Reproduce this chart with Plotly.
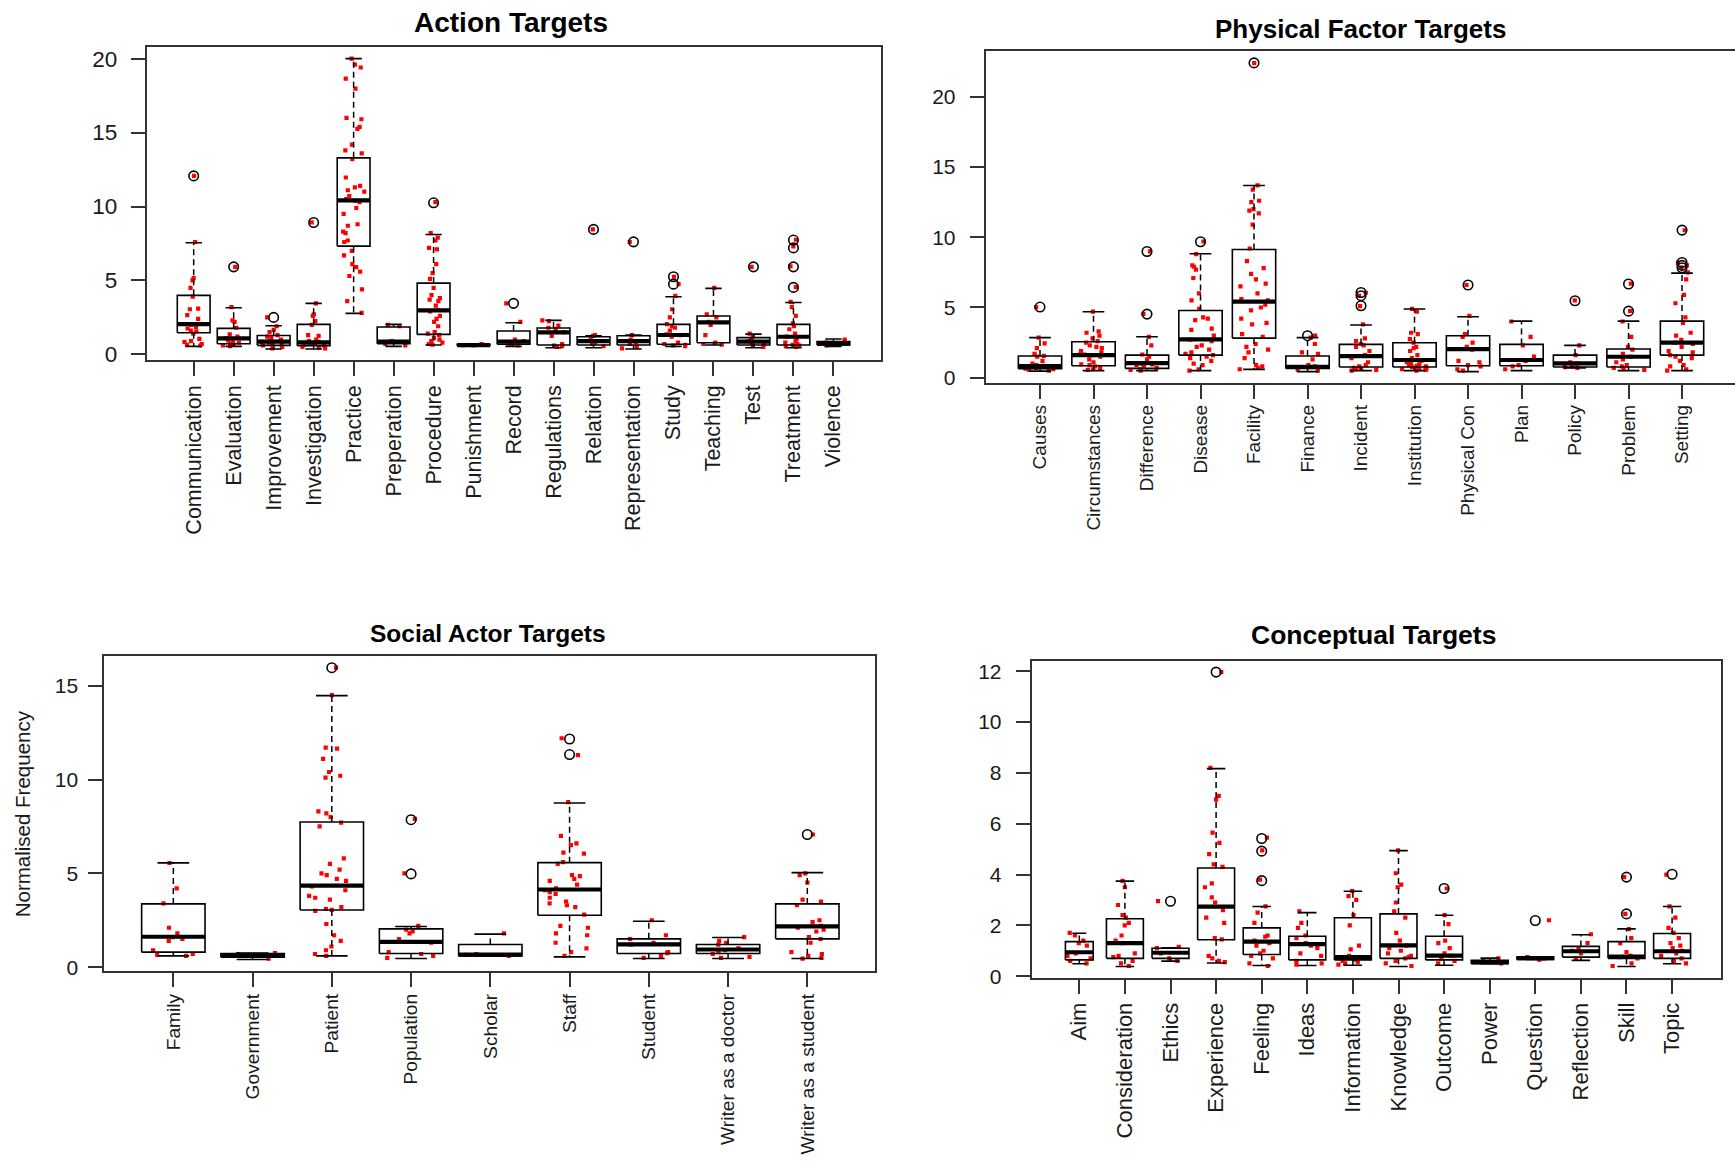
import plotly.graph_objects as go

# ===================== DATA =====================
# ---- Action Targets ----
action_cats = ["Communication", "Evaluation", "Improvement", "Investigation", "Practice",
               "Preperation", "Procedure", "Punishment", "Record", "Regulations", "Relation",
               "Representation", "Study", "Teaching", "Test", "Treatment", "Violence"]
action_lo = [0.54, 0.54, 0.36, 0.36, 2.77, 0.54, 0.63, 0.55, 0.54, 0.45, 0.45, 0.36, 0.54, 0.63, 0.45, 0.45, 0.54]
action_q1 = [1.46, 0.72, 0.61, 0.59, 7.32, 0.72, 1.35, 0.58, 0.68, 0.63, 0.63, 0.63, 0.68, 0.79, 0.63, 0.63, 0.63]
action_med = [2.05, 1.08, 0.86, 0.81, 10.41, 0.86, 2.97, 0.63, 0.86, 1.49, 0.90, 0.90, 1.31, 2.16, 0.86, 1.19, 0.72]
action_q3 = [3.99, 1.76, 1.28, 2.03, 13.29, 1.85, 4.82, 0.68, 1.58, 1.78, 1.19, 1.26, 2.03, 2.59, 1.13, 2.03, 0.86]
action_hi = [7.55, 3.15, 1.94, 3.45, 20.0, 2.03, 8.11, 0.70, 2.14, 2.30, 1.26, 1.31, 3.90, 4.46, 1.37, 3.51, 1.04]
action_out = [[12.07], [5.92], [2.5], [8.92], [], [], [10.25], [], [3.45], [], [8.45], [7.61],
              [5.25, 4.75], [], [5.92], [7.73, 7.2, 5.92, 4.53], []]
action_pts = [
    [12.07, 7.6, 5.15, 5.0, 4.5, 3.9, 3.1, 3.05, 2.65, 2.4, 2.0, 1.85, 1.75, 1.6, 1.4, 1.55, 1.05, 0.85, 0.65, 0.7, 0.6, 0.9],
    [5.92, 3.2, 2.3, 2.2, 1.8, 1.35, 1.2, 1.1, 0.95, 0.9, 0.8, 0.7, 0.65, 0.6, 0.55],
    [2.5, 1.9, 1.65, 1.5, 1.3, 1.2, 1.1, 1.0, 0.9, 0.85, 0.8, 0.7, 0.65, 0.6, 0.5, 0.4],
    [8.92, 3.45, 2.7, 2.6, 2.25, 2.0, 1.3, 1.25, 1.0, 0.9, 0.8, 0.75, 0.7, 0.6, 0.5, 0.45, 0.4, 0.85, 0.65],
    [20.0, 19.6, 19.4, 18.65, 17.97, 15.99, 15.9, 15.38, 15.25, 14.19, 13.8, 13.6, 13.2, 11.96, 11.4,
     11.3, 11.1, 11.0, 10.7, 10.5, 10.4, 10.3, 9.9, 9.5, 8.8, 8.7, 8.3, 8.2, 7.7, 7.6, 7.0, 6.7,
     6.1, 5.9, 5.6, 5.3, 4.4, 3.6, 2.8],
    [2.0, 1.9, 0.9, 0.85, 0.7, 0.6],
    [10.3, 8.2, 7.9, 7.7, 7.2, 7.1, 6.1, 5.5, 5.1, 4.5, 4.0, 3.8, 3.7, 3.6, 3.3, 3.0, 2.9, 2.6,
     2.4, 2.2, 1.9, 1.5, 1.4, 1.3, 1.1, 1.0, 0.9, 0.8, 0.7, 0.65],
    [0.7, 0.62, 0.6],
    [3.45, 2.2, 1.0, 0.9, 0.7, 0.6, 0.65],
    [2.3, 2.25, 1.95, 1.8, 1.7, 1.5, 1.25, 0.7, 0.6, 0.55, 0.5],
    [8.45, 1.3, 1.25, 1.0, 0.8, 0.7, 0.55],
    [7.6, 1.3, 1.0, 0.85, 0.7, 0.5, 0.4],
    [5.25, 4.75, 3.95, 3.05, 2.5, 2.05, 1.9, 1.8, 1.6, 1.35, 1.3, 1.2, 0.8, 0.7, 0.65, 0.6, 0.55],
    [4.5, 2.7, 2.5, 2.2, 2.0, 1.3, 0.8, 0.7, 0.65],
    [5.92, 1.4, 1.2, 1.0, 0.9, 0.8, 0.7, 0.6, 0.5],
    [7.75, 7.3, 5.95, 4.55, 3.55, 3.2, 2.6, 2.1, 1.9, 1.7, 1.4, 1.2, 1.05, 0.9, 0.8, 0.7, 0.65, 0.6, 0.55, 0.5],
    [1.0, 0.8, 0.7, 0.6],
]

# ---- Physical Factor Targets ----
phys_cats = ["Causes", "Circumstances", "Difference", "Disease", "Facility", "Finance", "Incident",
             "Institution", "Physical Con", "Plan", "Policy", "Problem", "Setting"]
phys_lo = [0.47, 0.50, 0.50, 0.50, 0.59, 0.43, 0.50, 0.50, 0.43, 0.50, 0.70, 0.50, 0.50]
phys_q1 = [0.64, 0.85, 0.66, 1.61, 2.82, 0.66, 0.76, 0.76, 0.85, 0.85, 0.76, 0.76, 1.61]
phys_med = [0.83, 1.61, 1.04, 2.73, 5.41, 0.78, 1.54, 1.26, 2.04, 1.26, 1.02, 1.49, 2.49]
phys_q3 = [1.54, 2.56, 1.61, 4.79, 9.13, 1.54, 2.37, 2.49, 2.99, 2.37, 1.61, 2.04, 4.03]
phys_hi = [2.85, 4.70, 2.92, 8.83, 13.69, 2.85, 3.75, 4.89, 4.34, 4.03, 2.30, 4.03, 7.45]
phys_out = [[5.03], [], [8.99, 4.53], [9.68], [22.42], [2.99], [6.07, 5.84, 5.12], [], [6.6], [],
            [5.48], [6.67, 4.74], [10.51, 8.2, 8.0, 7.83]]
phys_pts = [
    [5.03, 2.85, 2.45, 2.1, 1.7, 1.55, 1.5, 1.2, 1.0, 0.9, 0.85, 0.8, 0.7, 0.6, 0.55, 0.5, 0.75, 0.65],
    [4.7, 3.3, 3.2, 3.0, 2.8, 2.6, 2.5, 2.2, 2.1, 1.9, 1.8, 1.7, 1.6, 1.5, 1.3, 1.1, 0.9, 0.8, 0.7,
     0.6, 0.55, 1.65, 2.3, 0.95],
    [9.0, 4.55, 2.9, 2.3, 1.65, 1.5, 1.3, 1.0, 0.95, 0.9, 0.8, 0.7, 0.6, 0.55, 0.5],
    [9.7, 8.8, 8.0, 7.9, 7.7, 7.1, 6.0, 5.5, 4.9, 4.3, 4.2, 4.1, 3.5, 3.4, 3.0, 2.7, 2.6, 2.3, 2.2,
     2.0, 1.8, 1.7, 1.6, 1.5, 1.4, 1.2, 1.0, 0.9, 0.6, 0.5],
    [22.4, 13.7, 13.4, 12.6, 12.5, 12.0, 11.9, 11.7, 10.9, 9.2, 8.3, 7.8, 7.4, 7.0, 6.7, 6.5, 6.0,
     5.6, 5.5, 5.2, 5.0, 4.8, 4.2, 3.9, 3.8, 3.1, 2.9, 2.4, 2.2, 2.0, 1.8, 1.4, 0.9, 0.8, 0.7, 0.6],
    [3.0, 2.85, 2.4, 1.8, 1.7, 1.3, 0.9, 0.8, 0.75, 0.6, 0.5],
    [6.05, 5.85, 5.1, 3.8, 2.8, 2.6, 2.4, 2.3, 2.2, 1.9, 1.6, 1.4, 1.1, 0.9, 0.8, 0.7, 0.65, 0.6, 0.55, 0.5],
    [4.9, 4.7, 3.2, 3.1, 2.75, 2.5, 2.2, 2.1, 1.9, 1.6, 1.4, 1.2, 1.1, 1.0, 0.9, 0.85, 0.8, 0.75,
     0.7, 0.65, 0.6, 0.55, 0.5, 0.95, 0.7, 0.6],
    [6.6, 4.4, 3.1, 2.9, 2.5, 2.2, 2.0, 1.2, 1.1, 0.9, 0.8, 0.6, 0.5],
    [4.0, 2.9, 2.3, 1.5, 1.2, 0.9, 0.8, 0.6],
    [5.5, 2.3, 1.6, 1.1, 1.0, 0.9, 0.8, 0.75, 0.7],
    [6.7, 4.75, 4.0, 2.9, 2.2, 2.0, 1.7, 1.5, 1.3, 1.1, 0.9, 0.8, 0.7, 0.6, 0.55],
    [10.5, 8.2, 8.0, 7.85, 7.5, 7.0, 5.9, 5.3, 4.3, 3.9, 3.2, 3.0, 2.7, 2.5, 2.4, 2.2, 1.9, 1.8,
     1.6, 1.5, 1.4, 1.2, 0.9, 0.8, 0.6, 0.5],
]

# ---- Social Actor Targets ----
social_cats = ["Family", "Government", "Patient", "Population", "Scholar", "Staff", "Student",
               "Writer as a doctor", "Writer as a student"]
social_lo = [0.60, 0.41, 0.60, 0.46, 0.60, 0.55, 0.46, 0.46, 0.46]
social_q1 = [0.80, 0.53, 3.05, 0.73, 0.60, 2.77, 0.73, 0.73, 1.51]
social_med = [1.62, 0.62, 4.35, 1.35, 0.67, 4.14, 1.21, 0.94, 2.17]
social_q3 = [3.37, 0.73, 7.74, 2.04, 1.21, 5.57, 1.51, 1.21, 3.37]
social_hi = [5.56, 0.75, 14.47, 2.17, 1.76, 8.75, 2.45, 1.58, 5.04]
social_out = [[], [], [15.96], [7.86, 4.97], [], [12.16, 11.33], [], [], [7.07]]
social_pts = [
    [5.55, 4.2, 3.4, 2.1, 1.8, 1.6, 1.5, 1.4, 0.9, 0.7, 0.65, 0.6],
    [0.75, 0.7, 0.6, 0.45],
    [15.96, 14.5, 11.7, 11.65, 11.1, 10.4, 10.2, 10.1, 8.3, 8.2, 8.0, 7.7, 7.5, 5.8, 5.5, 5.2, 5.0,
     4.9, 4.7, 4.6, 4.3, 4.1, 3.8, 3.7, 3.6, 3.2, 3.1, 3.05, 3.0, 2.3, 1.7, 1.4, 1.1, 0.9, 0.7, 0.6],
    [7.9, 5.0, 2.2, 2.0, 1.9, 1.8, 1.5, 1.3, 0.8, 0.7, 0.6, 0.5],
    [1.8, 0.7, 0.65, 0.6],
    [12.2, 11.3, 8.8, 7.0, 6.6, 6.5, 6.1, 6.05, 5.6, 5.5, 4.9, 4.85, 4.7, 4.6, 4.4, 4.2, 4.1, 4.0,
     3.9, 3.7, 3.5, 3.4, 3.3, 3.2, 2.8, 2.2, 2.1, 1.8, 1.7, 1.3, 1.0, 0.8, 0.6],
    [2.5, 1.7, 1.5, 1.3, 1.2, 0.8, 0.75, 0.6, 0.5],
    [1.6, 1.4, 1.3, 1.2, 1.0, 0.9, 0.8, 0.7, 0.55, 0.5],
    [7.07, 5.0, 4.9, 4.5, 3.6, 3.5, 3.3, 2.5, 2.4, 2.2, 2.1, 2.0, 1.9, 1.6, 1.5, 1.3, 0.8, 0.7, 0.6,
     0.5, 0.45],
]

# ---- Conceptual Targets ----
concept_cats = ["Aim", "Consideration", "Ethics", "Experience", "Feeling", "Ideas", "Information",
                "Knowledge", "Outcome", "Power", "Question", "Reflection", "Skill", "Topic"]
concept_lo = [0.49, 0.38, 0.59, 0.52, 0.42, 0.42, 0.43, 0.38, 0.43, 0.49, 0.66, 0.62, 0.38, 0.49]
concept_q1 = [0.64, 0.70, 0.70, 1.43, 0.85, 0.64, 0.64, 0.70, 0.64, 0.49, 0.66, 0.75, 0.70, 0.70]
concept_med = [0.94, 1.30, 0.92, 2.74, 1.36, 1.26, 0.75, 1.21, 0.81, 0.55, 0.71, 0.98, 0.77, 0.98]
concept_q3 = [1.36, 2.26, 1.10, 4.26, 1.90, 1.57, 2.30, 2.45, 1.57, 0.62, 0.75, 1.17, 1.36, 1.68]
concept_hi = [1.69, 3.74, 1.12, 8.17, 2.74, 2.50, 3.34, 4.94, 2.40, 0.71, 0.75, 1.63, 1.86, 2.74]
concept_out = [[], [], [2.95], [11.97], [5.42, 4.92, 3.76], [], [], [], [3.45], [], [2.19], [],
               [3.9, 2.45], [4.01]]
concept_pts = [
    [1.7, 1.6, 1.4, 1.3, 1.2, 0.9, 0.8, 0.7, 0.6, 0.5],
    [3.75, 3.5, 2.8, 2.4, 2.3, 2.1, 2.0, 1.6, 1.4, 1.3, 0.9, 0.8, 0.75, 0.6, 0.5, 0.4],
    [2.95, 1.15, 1.1, 0.9, 0.7, 0.6],
    [11.97, 8.2, 7.1, 6.95, 5.65, 5.25, 4.8, 4.4, 4.3, 3.65, 3.5, 3.1, 2.9, 2.6, 2.3, 2.1, 1.5,
     1.45, 0.8, 0.7, 0.6, 0.55],
    [5.45, 4.95, 3.8, 2.75, 2.5, 2.1, 1.6, 1.55, 1.4, 1.3, 1.2, 1.0, 0.9, 0.8, 0.7, 0.5, 0.4],
    [2.55, 2.1, 1.9, 1.6, 1.5, 1.3, 1.2, 1.1, 0.9, 0.8, 0.6, 0.5, 0.45],
    [3.35, 3.15, 3.0, 2.4, 2.0, 1.2, 1.05, 0.8, 0.75, 0.7, 0.65, 0.6, 0.55, 0.5, 0.45],
    [4.95, 4.05, 3.6, 3.5, 2.9, 2.55, 2.3, 1.7, 1.4, 1.2, 1.1, 1.0, 0.9, 0.8, 0.75, 0.7, 0.6, 0.5, 0.4],
    [3.45, 2.4, 2.05, 1.4, 1.3, 1.1, 0.9, 0.8, 0.7, 0.6, 0.5],
    [0.7, 0.6, 0.5],
    [2.2, 0.75, 0.7, 0.65],
    [1.65, 1.3, 1.1, 1.0, 0.9, 0.7],
    [3.9, 2.45, 1.85, 1.5, 1.3, 0.95, 0.8, 0.75, 0.7, 0.5, 0.4],
    [4.0, 2.75, 2.3, 1.9, 1.7, 1.5, 1.3, 1.2, 1.1, 1.0, 0.9, 0.8, 0.7, 0.6, 0.5],
]

# ===================== STYLE / LAYOUT =====================
W, H = 1735, 1168
KY = 1.0095          # small vertical correction observed in the rendered page
FONT = "Liberation Sans, Arial, sans-serif"
TXT = "#1a1a1a"
FRAME = "#333333"


def px_dom_x(a, b):
    return [a / W, min(b / W, 1.0)]


def fy(py):
    return 1 - min(py * KY, H) / H


def px_dom_y(top, bottom):
    return [fy(bottom), fy(top)]


panels = [
    dict(name="Action Targets", cats=action_cats, lo=action_lo, q1=action_q1, med=action_med,
         q3=action_q3, hi=action_hi, out=action_out, pts=action_pts,
         dx=px_dom_x(146.7, 881), dy=px_dom_y(45.3, 358), xr=[-1.175, 17.19], yr=[-0.36, 20.77],
         yt=[0, 5, 10, 15, 20], bw=0.82, ytf=22.5, xtf=21.5, mirror_y=True,
         title_xy=(511, 21), title_size=28, ystand=9, xstand=1),
    dict(name="Physical Factor Targets", cats=phys_cats, lo=phys_lo, q1=phys_q1, med=phys_med,
         q3=phys_q3, hi=phys_hi, out=phys_out, pts=phys_pts,
         dx=px_dom_x(985.7, 1735), dy=px_dom_y(49, 381.7), xr=[-1.015, 12.99], yr=[-0.405, 23.27],
         yt=[0, 5, 10, 15, 20], bw=0.81, ytf=21, xtf=19, mirror_y=False,
         title_xy=(1360, 26.6), title_size=26, ystand=10, xstand=-2),
    dict(name="Social Actor Targets", cats=social_cats, lo=social_lo, q1=social_q1, med=social_med,
         q3=social_q3, hi=social_hi, out=social_out, pts=social_pts,
         dx=px_dom_x(104.3, 875), dy=px_dom_y(655, 970), xr=[-0.871, 8.854], yr=[-0.213, 16.56],
         yt=[0, 5, 10, 15], bw=0.80, ytf=21, xtf=19.2, mirror_y=True,
         title_xy=(488, 632), title_size=24.5, ystand=6, xstand=-1),
    dict(name="Conceptual Targets", cats=concept_cats, lo=concept_lo, q1=concept_q1, med=concept_med,
         q3=concept_q3, hi=concept_hi, out=concept_out, pts=concept_pts,
         dx=px_dom_x(1031.7, 1720.7), dy=px_dom_y(660, 976.7), xr=[-1.044, 14.066], yr=[-0.067, 12.39],
         yt=[0, 2, 4, 6, 8, 10, 12], bw=[0.61] + [0.81] * 13, ytf=21, xtf=22, mirror_y=True,
         title_xy=(1373, 634), title_size=26.5, ystand=10, xstand=0),
]

fig = go.Figure()
layout_axes = {}
annotations = []

for k, p in enumerate(panels):
    n = len(p["cats"])
    sfx = "" if k == 0 else str(k + 1)
    xa, ya = "x" + sfx, "y" + sfx
    widths = p["bw"] if isinstance(p["bw"], list) else [p["bw"]] * n

    bx, by, mx, my, wx, wy, cx, cy, ox, oy = [], [], [], [], [], [], [], [], [], []
    for i in range(n):
        h = widths[i] / 2
        bx += [i - h, i + h, i + h, i - h, i - h, None]
        by += [p["q1"][i], p["q1"][i], p["q3"][i], p["q3"][i], p["q1"][i], None]
        mx += [i - h, i + h, None]
        my += [p["med"][i], p["med"][i], None]
        wx += [i, i, None, i, i, None]
        wy += [p["q3"][i], p["hi"][i], None, p["q1"][i], p["lo"][i], None]
        c = h / 2
        cx += [i - c, i + c, None, i - c, i + c, None]
        cy += [p["hi"][i], p["hi"][i], None, p["lo"][i], p["lo"][i], None]
        ox += [i] * len(p["out"][i])
        oy += p["out"][i]

    common = dict(xaxis=xa, yaxis=ya, hoverinfo="skip", showlegend=False)
    fig.add_trace(go.Scatter(x=wx, y=wy, mode="lines",
                             line=dict(color="black", width=1.5, dash="6px,4px"), **common))
    fig.add_trace(go.Scatter(x=cx, y=cy, mode="lines", line=dict(color="black", width=1.6), **common))
    fig.add_trace(go.Scatter(x=bx, y=by, mode="lines", line=dict(color="black", width=1.6), **common))
    fig.add_trace(go.Scatter(x=mx, y=my, mode="lines", line=dict(color="black", width=4.2), **common))
    fig.add_trace(go.Scatter(x=ox, y=oy, mode="markers",
                             marker=dict(symbol="circle-open", size=9.5, color="black",
                                         line=dict(width=1.6, color="black")), **common))

    # jittered raw points (plotly's own jitter via a hidden box)
    px_, py_ = [], []
    for i in range(n):
        px_ += [i] * len(p["pts"][i])
        py_ += p["pts"][i]
    fig.add_trace(go.Box(x=px_, y=py_, boxpoints="all", jitter=0.8, pointpos=0, width=0.8,
                         line=dict(width=0, color="rgba(0,0,0,0)"), fillcolor="rgba(0,0,0,0)",
                         marker=dict(color="red", size=4.2, symbol="square"),
                         xaxis=xa, yaxis=ya, hoverinfo="skip", showlegend=False))

    layout_axes["xaxis" + sfx] = dict(
        domain=p["dx"], anchor=ya, range=p["xr"], tickmode="array", tickvals=list(range(n)),
        ticktext=p["cats"], tickangle=-90, ticks="outside", ticklen=14, tickwidth=1.5,
        tickcolor=FRAME, showgrid=False, zeroline=False, showline=True, linewidth=2,
        linecolor=FRAME, mirror=True, tickfont=dict(family=FONT, size=p["xtf"], color=TXT),
        ticklabelstandoff=p["xstand"], fixedrange=True)
    layout_axes["yaxis" + sfx] = dict(
        domain=p["dy"], anchor=xa, range=p["yr"], tickmode="array", tickvals=p["yt"],
        ticks="outside", ticklen=14, tickwidth=1.5, tickcolor=FRAME, showgrid=False,
        zeroline=False, showline=True, linewidth=2, linecolor=FRAME, mirror=p["mirror_y"],
        tickfont=dict(family=FONT, size=p["ytf"], color=TXT), ticklabelstandoff=p["ystand"],
        fixedrange=True)

    tx, ty = p["title_xy"]
    annotations.append(dict(text="<b>" + p["name"] + "</b>", x=tx / W, y=fy(ty),
                            xref="paper", yref="paper", xanchor="center", yanchor="middle",
                            showarrow=False, font=dict(family=FONT, size=p["title_size"], color="black")))

annotations.append(dict(text="Normalised Frequency", x=22 / W, y=fy(813), xref="paper",
                        yref="paper", xanchor="center", yanchor="middle", textangle=-90,
                        showarrow=False, font=dict(family=FONT, size=20.5, color=TXT)))

fig.update_layout(width=W, height=H, margin=dict(l=0, r=0, t=0, b=0), paper_bgcolor="white",
                  plot_bgcolor="white", boxmode="overlay", showlegend=False,
                  annotations=annotations, **layout_axes)

fig.write_html("out.html", config={"displayModeBar": False})
